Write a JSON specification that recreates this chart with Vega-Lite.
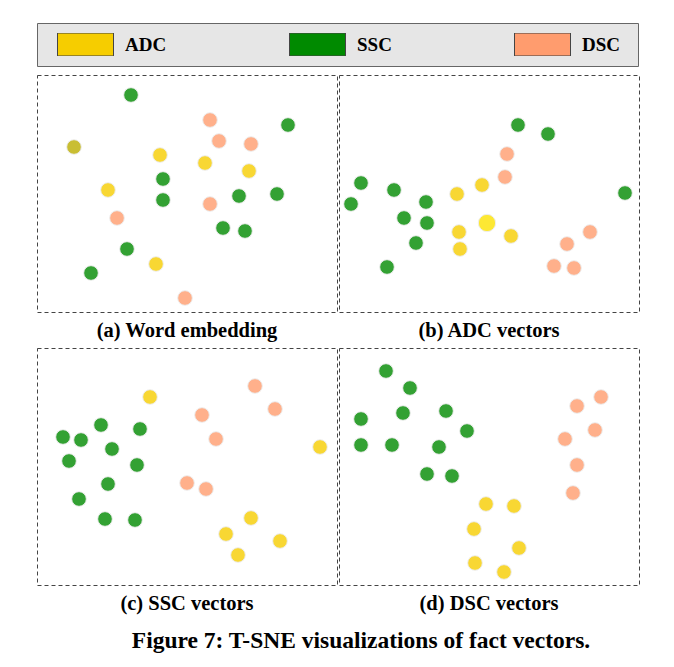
{
  "$schema": "https://vega.github.io/schema/vega-lite/v6.json",
  "padding": {"left": 36, "top": 22, "right": 37, "bottom": 10},
  "background": "white",
  "title": {"text": "Figure 7: T-SNE visualizations of fact vectors.", "orient": "bottom", "anchor": "middle", "fontSize": 23.5, "offset": 14, "dx": 23, "font": "Liberation Serif", "fontWeight": "bold", "color": "black"},
  "data": {"values": [
    {"panel":"a","cls":"SSC","x":9.4,"y":21.7},
    {"panel":"a","cls":"DSC","x":17.3,"y":19.2},
    {"panel":"a","cls":"SSC","x":25.1,"y":18.7},
    {"panel":"a","cls":"ADC","x":3.7,"y":16.5,"variant":"dark"},
    {"panel":"a","cls":"DSC","x":18.2,"y":17.1},
    {"panel":"a","cls":"DSC","x":21.4,"y":16.8},
    {"panel":"a","cls":"ADC","x":12.3,"y":15.7},
    {"panel":"a","cls":"ADC","x":16.8,"y":14.9},
    {"panel":"a","cls":"ADC","x":21.2,"y":14.1},
    {"panel":"a","cls":"SSC","x":12.6,"y":13.3},
    {"panel":"a","cls":"ADC","x":7.1,"y":12.2},
    {"panel":"a","cls":"SSC","x":12.6,"y":11.2},
    {"panel":"a","cls":"SSC","x":20.2,"y":11.6},
    {"panel":"a","cls":"SSC","x":24.0,"y":11.8},
    {"panel":"a","cls":"DSC","x":17.3,"y":10.8},
    {"panel":"a","cls":"DSC","x":8.0,"y":9.4},
    {"panel":"a","cls":"SSC","x":18.6,"y":8.4},
    {"panel":"a","cls":"SSC","x":20.8,"y":8.1},
    {"panel":"a","cls":"SSC","x":9.0,"y":6.3},
    {"panel":"a","cls":"ADC","x":11.9,"y":4.8},
    {"panel":"a","cls":"SSC","x":5.4,"y":3.9},
    {"panel":"a","cls":"DSC","x":14.8,"y":1.4},
    {"panel":"b","cls":"SSC","x":17.9,"y":18.7},
    {"panel":"b","cls":"SSC","x":20.9,"y":17.8},
    {"panel":"b","cls":"DSC","x":16.8,"y":15.8},
    {"panel":"b","cls":"DSC","x":16.6,"y":13.5},
    {"panel":"b","cls":"SSC","x":2.2,"y":12.9},
    {"panel":"b","cls":"SSC","x":5.5,"y":12.2},
    {"panel":"b","cls":"ADC","x":14.3,"y":12.7},
    {"panel":"b","cls":"ADC","x":11.8,"y":11.8},
    {"panel":"b","cls":"SSC","x":1.2,"y":10.8},
    {"panel":"b","cls":"SSC","x":8.7,"y":11.0},
    {"panel":"b","cls":"SSC","x":28.6,"y":11.9},
    {"panel":"b","cls":"SSC","x":6.5,"y":9.4},
    {"panel":"b","cls":"SSC","x":8.8,"y":8.9},
    {"panel":"b","cls":"ADC","x":14.8,"y":8.9,"variant":"bright"},
    {"panel":"b","cls":"ADC","x":12.0,"y":8.0},
    {"panel":"b","cls":"ADC","x":17.2,"y":7.6},
    {"panel":"b","cls":"DSC","x":25.1,"y":8.0},
    {"panel":"b","cls":"SSC","x":7.7,"y":6.9},
    {"panel":"b","cls":"ADC","x":12.1,"y":6.3},
    {"panel":"b","cls":"DSC","x":22.8,"y":6.8},
    {"panel":"b","cls":"SSC","x":4.8,"y":4.5},
    {"panel":"b","cls":"DSC","x":21.5,"y":4.6},
    {"panel":"b","cls":"DSC","x":23.5,"y":4.4},
    {"panel":"c","cls":"ADC","x":11.3,"y":18.8},
    {"panel":"c","cls":"DSC","x":21.8,"y":19.9},
    {"panel":"c","cls":"DSC","x":23.8,"y":17.6},
    {"panel":"c","cls":"DSC","x":16.5,"y":17.0},
    {"panel":"c","cls":"SSC","x":6.4,"y":16.0},
    {"panel":"c","cls":"SSC","x":10.3,"y":15.6},
    {"panel":"c","cls":"SSC","x":2.6,"y":14.8},
    {"panel":"c","cls":"SSC","x":4.4,"y":14.5},
    {"panel":"c","cls":"DSC","x":17.9,"y":14.6},
    {"panel":"c","cls":"SSC","x":7.5,"y":13.6},
    {"panel":"c","cls":"ADC","x":28.3,"y":13.8},
    {"panel":"c","cls":"SSC","x":3.2,"y":12.4},
    {"panel":"c","cls":"SSC","x":10.0,"y":12.0},
    {"panel":"c","cls":"SSC","x":7.1,"y":10.1},
    {"panel":"c","cls":"DSC","x":15.0,"y":10.2},
    {"panel":"c","cls":"DSC","x":16.9,"y":9.6},
    {"panel":"c","cls":"SSC","x":4.2,"y":8.6},
    {"panel":"c","cls":"ADC","x":21.4,"y":6.7},
    {"panel":"c","cls":"SSC","x":6.8,"y":6.6},
    {"panel":"c","cls":"SSC","x":9.8,"y":6.5},
    {"panel":"c","cls":"ADC","x":18.9,"y":5.1},
    {"panel":"c","cls":"ADC","x":24.3,"y":4.4},
    {"panel":"c","cls":"ADC","x":20.1,"y":3.0},
    {"panel":"d","cls":"SSC","x":4.7,"y":21.4},
    {"panel":"d","cls":"SSC","x":7.1,"y":19.7},
    {"panel":"d","cls":"DSC","x":26.2,"y":18.8},
    {"panel":"d","cls":"DSC","x":23.8,"y":17.9},
    {"panel":"d","cls":"SSC","x":6.4,"y":17.2},
    {"panel":"d","cls":"SSC","x":10.7,"y":17.4},
    {"panel":"d","cls":"SSC","x":2.2,"y":16.6},
    {"panel":"d","cls":"SSC","x":12.8,"y":15.4},
    {"panel":"d","cls":"DSC","x":25.6,"y":15.5},
    {"panel":"d","cls":"DSC","x":22.6,"y":14.6},
    {"panel":"d","cls":"SSC","x":2.2,"y":14.0},
    {"panel":"d","cls":"SSC","x":5.3,"y":14.0},
    {"panel":"d","cls":"SSC","x":10.0,"y":13.8},
    {"panel":"d","cls":"DSC","x":23.8,"y":12.0},
    {"panel":"d","cls":"SSC","x":8.8,"y":11.1},
    {"panel":"d","cls":"SSC","x":11.3,"y":10.9},
    {"panel":"d","cls":"DSC","x":23.4,"y":9.2},
    {"panel":"d","cls":"ADC","x":14.7,"y":8.1},
    {"panel":"d","cls":"ADC","x":17.5,"y":7.9},
    {"panel":"d","cls":"ADC","x":13.5,"y":5.6},
    {"panel":"d","cls":"ADC","x":18.0,"y":3.7},
    {"panel":"d","cls":"ADC","x":13.6,"y":2.2},
    {"panel":"d","cls":"ADC","x":16.5,"y":1.3}
  ]},
  "spacing": 5,
  "vconcat": [
    {"spacing": 0, "hconcat": [
      {"width": 300, "height": 237, "title": "(a) Word embedding",
       "transform": [{"filter": "datum.panel === 'a'"}],
       "mark": {"type": "circle", "fillOpacity": 0.8, "stroke": "#eeeeee", "strokeWidth": 1},
       "encoding": {
         "x": {"field": "x", "type": "quantitative", "scale": {"domain": [0, 30]}, "axis": null},
         "y": {"field": "y", "type": "quantitative", "scale": {"domain": [0, 23.7]}, "axis": null},
         "size": {"condition": {"test": "datum.variant === 'bright'", "value": 300}, "value": 215},
         "color": {"field": "cls", "type": "nominal", "scale": {"domain": ["ADC", "SSC", "DSC"], "range": ["#f6cd00", "#008a00", "#ff9c6e"]},
           "condition": [{"test": "datum.variant === 'dark'", "value": "#bcae00"}, {"test": "datum.variant === 'bright'", "value": "#fce200"}],
           "legend": {"title": " ", "encode": {"symbols": {"update": {"size": {"value": 3136}, "fillOpacity": {"value": 1}, "opacity": {"value": 1}, "stroke": {"value": "#444444"}, "strokeWidth": {"value": 1}}}}}}
       }},
      {"width": 300, "height": 237, "title": "(b) ADC vectors",
       "transform": [{"filter": "datum.panel === 'b'"}],
       "mark": {"type": "circle", "fillOpacity": 0.8, "stroke": "#eeeeee", "strokeWidth": 1},
       "encoding": {
         "x": {"field": "x", "type": "quantitative", "scale": {"domain": [0, 30]}, "axis": null},
         "y": {"field": "y", "type": "quantitative", "scale": {"domain": [0, 23.7]}, "axis": null},
         "size": {"condition": {"test": "datum.variant === 'bright'", "value": 300}, "value": 215},
         "color": {"field": "cls", "type": "nominal", "scale": {"domain": ["ADC", "SSC", "DSC"], "range": ["#f6cd00", "#008a00", "#ff9c6e"]},
           "condition": [{"test": "datum.variant === 'dark'", "value": "#bcae00"}, {"test": "datum.variant === 'bright'", "value": "#fce200"}],
           "legend": {"title": " ", "encode": {"symbols": {"update": {"size": {"value": 3136}, "fillOpacity": {"value": 1}, "opacity": {"value": 1}, "stroke": {"value": "#444444"}, "strokeWidth": {"value": 1}}}}}}
       }}
    ]},
    {"spacing": 0, "hconcat": [
      {"width": 300, "height": 237, "title": "(c) SSC vectors",
       "transform": [{"filter": "datum.panel === 'c'"}],
       "mark": {"type": "circle", "fillOpacity": 0.8, "stroke": "#eeeeee", "strokeWidth": 1},
       "encoding": {
         "x": {"field": "x", "type": "quantitative", "scale": {"domain": [0, 30]}, "axis": null},
         "y": {"field": "y", "type": "quantitative", "scale": {"domain": [0, 23.7]}, "axis": null},
         "size": {"condition": {"test": "datum.variant === 'bright'", "value": 300}, "value": 215},
         "color": {"field": "cls", "type": "nominal", "scale": {"domain": ["ADC", "SSC", "DSC"], "range": ["#f6cd00", "#008a00", "#ff9c6e"]},
           "condition": [{"test": "datum.variant === 'dark'", "value": "#bcae00"}, {"test": "datum.variant === 'bright'", "value": "#fce200"}],
           "legend": {"title": " ", "encode": {"symbols": {"update": {"size": {"value": 3136}, "fillOpacity": {"value": 1}, "opacity": {"value": 1}, "stroke": {"value": "#444444"}, "strokeWidth": {"value": 1}}}}}}
       }},
      {"width": 300, "height": 237, "title": "(d) DSC vectors",
       "transform": [{"filter": "datum.panel === 'd'"}],
       "mark": {"type": "circle", "fillOpacity": 0.8, "stroke": "#eeeeee", "strokeWidth": 1},
       "encoding": {
         "x": {"field": "x", "type": "quantitative", "scale": {"domain": [0, 30]}, "axis": null},
         "y": {"field": "y", "type": "quantitative", "scale": {"domain": [0, 23.7]}, "axis": null},
         "size": {"condition": {"test": "datum.variant === 'bright'", "value": 300}, "value": 215},
         "color": {"field": "cls", "type": "nominal", "scale": {"domain": ["ADC", "SSC", "DSC"], "range": ["#f6cd00", "#008a00", "#ff9c6e"]},
           "condition": [{"test": "datum.variant === 'dark'", "value": "#bcae00"}, {"test": "datum.variant === 'bright'", "value": "#fce200"}],
           "legend": {"title": " ", "encode": {"symbols": {"update": {"size": {"value": 3136}, "fillOpacity": {"value": 1}, "opacity": {"value": 1}, "stroke": {"value": "#444444"}, "strokeWidth": {"value": 1}}}}}}
       }}
    ]}
  ],
  "resolve": {"scale": {"color": "shared"}, "legend": {"color": "shared"}},
  "config": {
    "view": {"stroke": "#444444", "strokeDash": [4, 3], "strokeWidth": 1},
    "title": {"font": "Liberation Serif", "fontWeight": "bold", "fontSize": 20.5, "color": "black", "orient": "bottom", "offset": 9, "anchor": "middle"},
    "legend": {
      "orient": "top", "direction": "horizontal", "padding": 10, "offset": 8,
      "fillColor": "#e6e6e6", "strokeColor": "#666666",
      "symbolType": "M-1,-0.41H1V0.41H-1Z", "symbolSize": 3136,
      "symbolStrokeColor": "#444444", "symbolStrokeWidth": 1, "symbolOpacity": 1,
      "symbolOffset": 10, "labelOffset": 11, "clipHeight": 23,
      "labelFont": "Liberation Serif", "labelFontWeight": "bold", "labelFontSize": 19, "labelColor": "black",
      "columnPadding": 112,
      "titleOrient": "right", "titlePadding": 8, "titleFontSize": 19, "titleFont": "Liberation Serif"
    }
  }
}
